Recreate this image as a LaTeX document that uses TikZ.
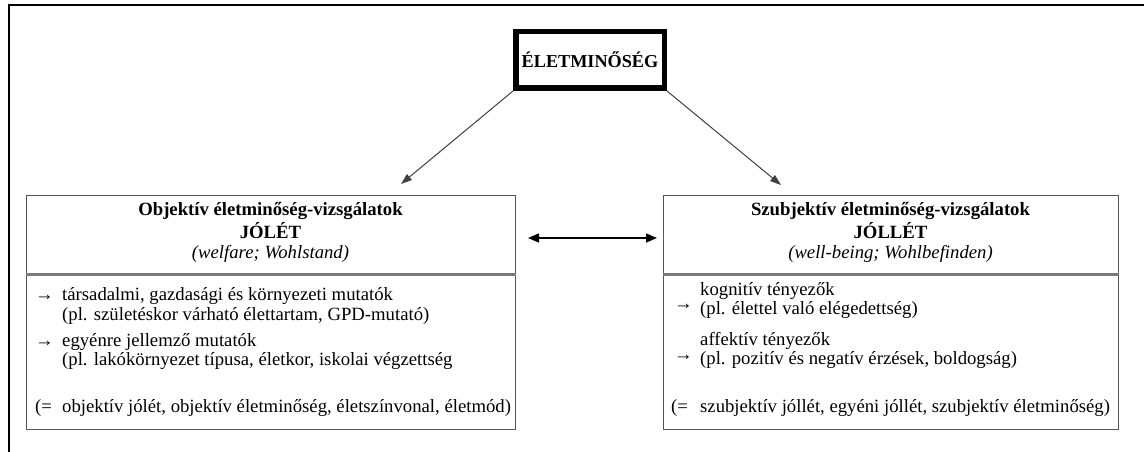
\documentclass[tikz,border=0pt]{standalone}
\usepackage{fontspec}
\setmainfont{Liberation Serif}
\usetikzlibrary{arrows.meta}
\definecolor{boxgray}{HTML}{555555}
\definecolor{rulegray}{HTML}{7A7A7A}
\definecolor{linkgray}{HTML}{404040}
\newcommand{\bodysize}{\fontsize{18.7}{22}\selectfont}
\begin{document}
\begin{tikzpicture}[x=1pt,y=-1pt,
  base/.style={inner sep=0pt, font=\bodysize},
  txt/.style={base, anchor=base west},
  hdr/.style={base, anchor=base, font=\bodysize\bfseries},
  sub/.style={base, anchor=base, font=\bodysize\itshape},
  panel/.style={draw=boxgray, line width=1.3pt, inner sep=0pt, anchor=north west},
  divider/.style={draw=rulegray, line width=2.4pt},
  link/.style={draw=linkgray, line width=1pt, -{Triangle[length=11pt,width=7.5pt]}},
  both/.style={draw=black, line width=1.5pt, {Triangle[length=11pt,width=9pt]}-{Triangle[length=11pt,width=9pt]}},
]
\useasboundingbox (0,0) rectangle (1144,452);

% outer frame (runs off the right and lower edges)
\draw[line width=2.6pt] (9,470) -- (9,5) -- (1170,5);

% title
\node[draw, line width=5.5pt, minimum width=148.5pt, minimum height=56.5pt,
      inner sep=0pt, font=\fontsize{18.2}{22}\selectfont\bfseries]
      (title) at (590,60) {ÉLETMINŐSÉG};

% the two panels
\node[panel, minimum width=489pt, minimum height=234pt] (obj) at (26,195) {};
\node[panel, minimum width=455pt, minimum height=234pt] (sub) at (663,195) {};
\draw[divider] (obj.west |- 0,274.5) -- (obj.east |- 0,274.5);
\draw[divider] (sub.west |- 0,274.5) -- (sub.east |- 0,274.5);

% connectors
\coordinate (objtip) at (401,184);
\coordinate (subtip) at (781,185);
\draw[link] (title.south west) -- (objtip);
\draw[link] (title.south east) -- (subtip);
\coordinate (bl) at (528,238);
\coordinate (br) at (657,238);
\draw[both] (bl) -- (br);

% left panel text
\node[hdr] (objh1) at (270.5,215) {Objektív életminőség-vizsgálatok};
\node[hdr] (objh2) at (270.5,238) {JÓLÉT};
\node[sub] (objh3) at (270.5,258) {(welfare; Wohlstand)};
\node[txt] (oa1) at (35,300) {→};
\node[txt] (ol1) at (62,300) {társadalmi, gazdasági és környezeti mutatók};
\node[txt] (ol2) at (62,320) {(pl. születéskor várható élettartam, GPD-mutató)};
\node[txt] (oa2) at (35,346) {→};
\node[txt] (ol3) at (62,346) {egyénre jellemző mutatók};
\node[txt] (ol4) at (62,365) {(pl. lakókörnyezet típusa, életkor, iskolai végzettség};
\node[txt] (oeq) at (35,412) {(=};
\node[txt] (ol5) at (62,412) {objektív jólét, objektív életminőség, életszínvonal, életmód)};

% right panel text
\node[hdr] (subh1) at (890.5,215) {Szubjektív életminőség-vizsgálatok};
\node[hdr] (subh2) at (890.5,238) {JÓLLÉT};
\node[sub] (subh3) at (890.5,258) {(well-being; Wohlbefinden)};
\node[txt] (sa1) at (674,309) {→};
\node[txt] (sl1) at (700,295) {kognitív tényezők};
\node[txt] (sl2) at (700,314) {(pl. élettel való elégedettség)};
\node[txt] (sa2) at (674,360) {→};
\node[txt] (sl3) at (700,345) {affektív tényezők};
\node[txt] (sl4) at (700,364) {(pl. pozitív és negatív érzések, boldogság)};
\node[txt] (seq) at (671,412) {(=};
\node[txt] (sl5) at (700,412) {szubjektív jóllét, egyéni jóllét, szubjektív életminőség)};
\end{tikzpicture}
\end{document}
